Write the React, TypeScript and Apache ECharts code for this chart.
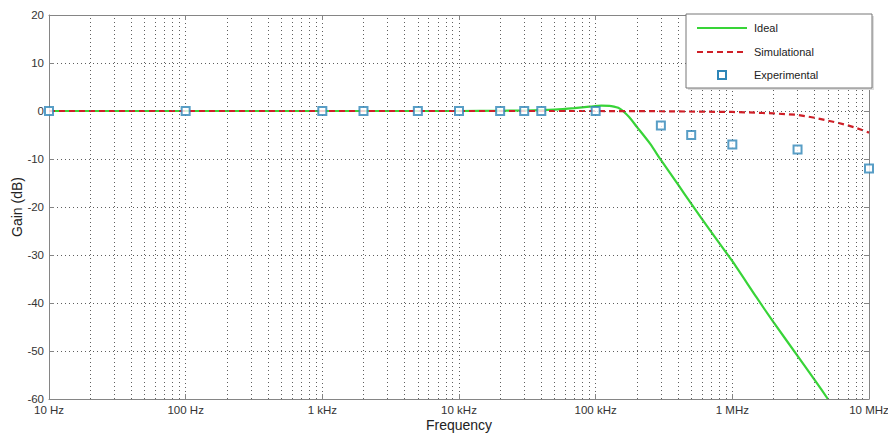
import React, { useEffect, useRef } from 'react';
import * as echarts from 'echarts';

// Frequencies in Hz, gains in dB
const idealFreq = [10, 100, 1e3, 1e4, 2e4, 3e4, 5e4, 7e4, 9e4, 1.1e5, 1.3e5, 1.5e5, 1.75e5, 2e5, 2.5e5, 3e5, 4e5, 5e5, 7e5, 1e6, 1.5e6, 2e6, 3e6, 4e6, 5e6];
const idealGain = [0, 0, 0, 0, 0.05, 0.1, 0.3, 0.6, 0.9, 1.1, 1.0, 0.5, -1.2, -3.3, -6.8, -10.2, -15.3, -19.3, -25.2, -31.3, -38.8, -44, -51, -56, -60];

const simFreq = [10, 100, 1e3, 1e4, 1e5, 3e5, 1e6, 1.5e6, 2e6, 3e6, 4e6, 5e6, 6e6, 7e6, 8e6, 9e6, 1e7];
const simGain = [0, 0, 0, 0, 0, -0.05, -0.2, -0.35, -0.5, -0.8, -1.4, -2.0, -2.5, -3.0, -3.5, -4.0, -4.5];

const expFreq = [10, 100, 1e3, 2e3, 5e3, 1e4, 2e4, 3e4, 4e4, 1e5, 3e5, 5e5, 1e6, 3e6, 1e7];
const expGain = [0, 0, 0, 0, 0, 0, 0, 0, 0, 0, -3, -5, -7, -8, -12];

const xDecades = [10, 100, 1e3, 1e4, 1e5, 1e6, 1e7];
const xTickLabels = ['10 Hz', '100 Hz', '1 kHz', '10 kHz', '100 kHz', '1 MHz', '10 MHz'];
const minorMultipliers = [2, 3, 4, 5, 6, 7, 8, 9];
const legendNames = ['Ideal', 'Simulational', 'Experimental'];

const FONT = '"Liberation Sans", Arial, sans-serif';
const GRID_STYLE = { color: '#5e5e5e', width: 1, type: [1, 3] as number[] };
const AXIS_COLOR = '#858585';
const GREEN = '#38d438';
const RED = '#cf1f27';
const BLUE = '#2e86b8';

export default function App() {
  const ref = useRef<HTMLDivElement>(null);

  useEffect(() => {
    document.body.style.margin = '0';
    if (!ref.current) return;
    const chart = echarts.init(ref.current, null, { renderer: 'svg' });

    const minorLines: { xAxis: number }[] = [];
    xDecades.slice(0, -1).forEach((d) => {
      minorMultipliers.forEach((m) => minorLines.push({ xAxis: d * m }));
    });

    const fmt = (v: number) => {
      const i = xDecades.findIndex((d) => Math.abs(Math.log10(d) - Math.log10(v)) < 1e-6);
      return i >= 0 ? xTickLabels[i] : '';
    };

    const lx = 686, ly = 14, lw = 186, lh = 74;
    const rowY = [28, 52, 75];
    const textStyle = (t: string, y: number) => ({
      type: 'text',
      x: 754,
      y,
      style: { text: t, fontSize: 11, fill: '#222222', font: `11px ${FONT}`, verticalAlign: 'middle', align: 'left' },
    });

    chart.setOption({
      animation: false,
      backgroundColor: '#ffffff',
      textStyle: { fontFamily: FONT },
      grid: { left: 49, right: 19, top: 15, bottom: 35, containLabel: false, outerBoundsMode: 'none' },
      graphic: [
        {
          type: 'group',
          z: 100,
          children: [
            { type: 'rect', shape: { x: lx + 2, y: ly + 2, width: lw, height: lh }, style: { fill: '#dddddd' }, z: 100 },
            { type: 'rect', shape: { x: lx, y: ly, width: lw, height: lh }, style: { fill: '#ffffff', stroke: '#777777', lineWidth: 1 }, z: 101 },
            { type: 'line', shape: { x1: 697, y1: rowY[0], x2: 747, y2: rowY[0] }, style: { stroke: GREEN, lineWidth: 2.2 }, z: 102 },
            { type: 'line', shape: { x1: 697, y1: rowY[1], x2: 747, y2: rowY[1] }, style: { stroke: RED, lineWidth: 2.2, lineDash: [6, 4] }, z: 102 },
            { type: 'rect', shape: { x: 718, y: rowY[2] - 4, width: 8, height: 8 }, style: { fill: '#ffffff', stroke: BLUE, lineWidth: 2 }, z: 102 },
            { ...textStyle(legendNames[0], rowY[0]), z: 102 },
            { ...textStyle(legendNames[1], rowY[1]), z: 102 },
            { ...textStyle(legendNames[2], rowY[2]), z: 102 },
          ],
        },
      ],
      xAxis: [
        {
          type: 'log',
          logBase: 10,
          min: 10,
          max: 1e7,
          name: 'Frequency',
          nameLocation: 'middle',
          nameGap: 19,
          nameMoveOverlap: false,
          nameTextStyle: { fontSize: 14, color: '#222222', fontFamily: FONT, verticalAlign: 'top' },
          axisLine: { show: true, onZero: false, lineStyle: { color: AXIS_COLOR, width: 1 } },
          axisTick: { show: true, inside: true, length: 5, lineStyle: { color: AXIS_COLOR } },
          axisLabel: { formatter: fmt, fontSize: 11.5, color: '#333333', margin: 5, fontFamily: FONT },
          splitLine: { show: true, lineStyle: GRID_STYLE },
          minorTick: { show: false },
        },
        {
          type: 'log',
          logBase: 10,
          min: 10,
          max: 1e7,
          position: 'top',
          axisLine: { show: true, onZero: false, lineStyle: { color: AXIS_COLOR, width: 1 } },
          axisTick: { show: true, inside: true, length: 5, lineStyle: { color: AXIS_COLOR } },
          axisLabel: { show: false },
          splitLine: { show: false },
        },
      ],
      yAxis: [
        {
          type: 'value',
          min: -60,
          max: 20,
          interval: 10,
          name: 'Gain (dB)',
          nameLocation: 'middle',
          nameGap: 25,
          nameMoveOverlap: false,
          nameTextStyle: { fontSize: 14, color: '#222222', fontFamily: FONT },
          axisLine: { show: true, onZero: false, lineStyle: { color: AXIS_COLOR, width: 1 } },
          axisTick: { show: true, inside: true, length: 5, lineStyle: { color: AXIS_COLOR } },
          axisLabel: { fontSize: 11.5, color: '#333333', margin: 5, fontFamily: FONT },
          splitLine: { show: true, lineStyle: GRID_STYLE },
        },
        {
          type: 'value',
          min: -60,
          max: 20,
          interval: 10,
          position: 'right',
          axisLine: { show: true, onZero: false, lineStyle: { color: AXIS_COLOR, width: 1 } },
          axisTick: { show: true, inside: true, length: 5, lineStyle: { color: AXIS_COLOR } },
          axisLabel: { show: false },
          splitLine: { show: false },
        },
      ],
      series: [
        {
          name: 'minorGrid',
          type: 'line',
          data: [],
          z: 1,
          silent: true,
          markLine: {
            silent: true,
            symbol: ['none', 'none'],
            label: { show: false },
            lineStyle: GRID_STYLE,
            emphasis: { disabled: true },
            data: minorLines,
          },
        },
        {
          name: legendNames[0],
          type: 'line',
          symbol: 'none',
          smooth: 0.2,
          z: 3,
          data: idealFreq.map((f, i) => [f, idealGain[i]]),
          lineStyle: { color: GREEN, width: 2.2 },
          itemStyle: { color: GREEN },
        },
        {
          name: legendNames[1],
          type: 'line',
          symbol: 'none',
          z: 4,
          data: simFreq.map((f, i) => [f, simGain[i]]),
          lineStyle: { color: RED, width: 2.2, type: [6, 4] },
          itemStyle: { color: RED },
        },
        {
          name: legendNames[2],
          type: 'scatter',
          symbol: 'rect',
          symbolSize: 8,
          z: 5,
          clip: false,
          data: expFreq.map((f, i) => [f, expGain[i]]),
          itemStyle: { color: '#ffffff', borderColor: BLUE, borderWidth: 2 },
        },
      ],
    });

    return () => chart.dispose();
  }, []);

  return <div ref={ref} style={{ width: 888, height: 434 }} />;
}
